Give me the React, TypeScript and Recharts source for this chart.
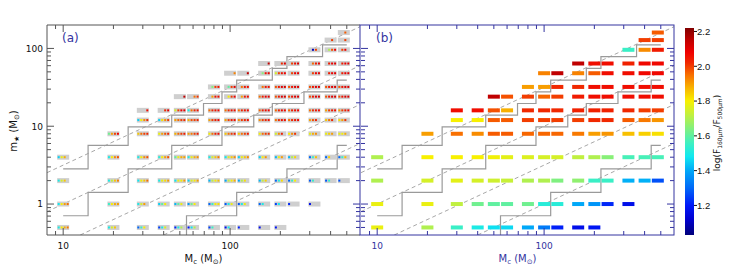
import React from "react";
import { ScatterChart, Scatter, XAxis, YAxis } from "recharts";

// model grid: clump mass (columns) and protostar mass (rows)
const MC = [10, 20, 30, 40, 50, 60, 80, 100, 120, 160, 200, 240, 320, 400, 480];
const MSTAR = [0.5, 1, 2, 4, 8, 12, 16, 24, 32, 48, 64, 96, 128, 160];

// (b) mean log(F160/F500) per m* row, one value per Mc (null = no model)
const _ = null;
const R_0p5 = [1.78, 1.7, 1.55, 1.5, 1.47, 1.46, 1.4, 1.33, 1.21, 1.17, 1.19, _, _, _, _];
const R_1 = [1.78, 1.78, 1.72, 1.62, 1.6, 1.6, 1.62, 1.52, 1.52, 1.4, 1.37, 1.22, 1.17, _, _];
const R_2 = [1.7, 1.75, 1.77, 1.75, 1.74, 1.73, 1.7, 1.7, 1.64, 1.66, 1.55, 1.55, 1.41, 1.41, 1.27];
const R_4 = [1.7, 1.8, 1.8, 1.8, 1.79, 1.77, 1.76, 1.75, 1.75, 1.72, 1.7, 1.65, 1.57, 1.57, 1.57];
const R_8 = [_, 1.9, 1.95, 1.92, 1.97, 1.97, 1.96, 1.96, 1.96, 1.94, 1.9, 1.91, 1.86, 1.84, 1.82];
const R_12 = [_, _, 1.8, 1.8, 1.97, 1.97, 2.0, 2.0, 2.0, 2.0, 2.02, 2.02, 1.97, 1.94, 1.91];
const R_16 = [_, _, 2.06, 2.06, 1.98, 1.88, 2.02, 2.02, 2.02, 2.03, 2.03, 2.03, 2.02, 2.0, 2.0];
const R_24 = [_, _, _, _, 2.15, 1.98, 2.0, 1.96, 2.0, 2.04, 2.06, 2.06, 2.06, 2.06, 2.06];
const R_32 = [_, _, _, _, _, _, 1.9, 1.9, 2.02, 2.02, 2.06, 2.06, 2.06, 2.06, 2.06];
const R_48 = [_, _, _, _, _, _, _, 1.93, 2.15, 1.93, 1.97, 2.06, 2.06, 2.07, 2.07];
const R_64 = [_, _, _, _, _, _, _, _, _, 2.15, 2.06, 2.06, 2.03, 2.07, 2.07];
const R_96 = [_, _, _, _, _, _, _, _, _, _, _, _, 1.55, 1.92, 2.04];
const R_128 = [_, _, _, _, _, _, _, _, _, _, _, _, _, 2.0, 2.0];
const R_160 = [_, _, _, _, _, _, _, _, _, _, _, _, _, _, 1.97];
const ROWS = [R_0p5, R_1, R_2, R_4, R_8, R_12, R_16, R_24, R_32, R_48, R_64, R_96, R_128, R_160];

// (a) the four single models in each cell (slot order left to right, null = absent)
const D_0p5 = [
  [1.5, 1.8, 1.88, 1.94], [1.5, 1.75, 1.85, _], [1.3, 1.55, 1.8, _], [1.25, 1.5, 1.75, _],
  [1.22, 1.5, 1.7, _], [1.2, 1.48, 1.7, _], [1.25, 1.55, _, _], [1.18, 1.48, _, _],
  [1.21, _, _, _], [1.17, _, _, _], [1.19, _, _, _], _, _, _, _,
];
const D_1 = [
  [1.48, 1.8, 1.9, 1.95], [1.55, 1.8, 1.88, 1.9], [1.5, 1.75, 1.9, _], [1.45, 1.6, 1.8, _],
  [1.42, 1.6, 1.78, _], [1.38, 1.62, 1.8, _], [1.3, 1.55, 1.8, 1.82], [1.28, 1.5, 1.78, _],
  [1.28, 1.5, 1.78, _], [1.3, 1.5, _, _], [1.25, 1.48, _, _], [1.22, _, _, _], [1.17, _, _, _], _, _,
];
const D_2 = [
  [1.5, 1.75, 1.85, _], [1.5, 1.72, 1.85, 1.93], [1.48, 1.8, 1.85, 1.95], [1.5, 1.78, 1.82, 1.9],
  [1.48, 1.78, 1.8, 1.9], [1.45, 1.76, 1.8, 1.9], [1.42, 1.72, 1.8, 1.86], [1.4, 1.72, 1.8, 1.88],
  [1.4, 1.7, 1.82, _], [1.42, 1.72, 1.84, _], [1.3, 1.52, 1.82, _], [1.3, 1.55, 1.8, _],
  [1.28, 1.54, _, _], [1.28, 1.54, _, _], [1.27, _, _, _],
];
const D_4 = [
  [1.45, 1.78, 1.88, _], [1.5, 1.8, 1.92, 1.98], [1.5, 1.8, 1.92, 1.98], [1.52, 1.8, 1.9, 1.98],
  [1.6, 1.78, 1.88, 1.9], [1.5, 1.78, 1.88, 1.92], [1.5, 1.75, 1.85, 1.94], [1.48, 1.76, 1.84, 1.92],
  [1.45, 1.78, 1.85, 1.92], [1.45, 1.8, 1.91, _], [1.42, 1.78, 1.9, _], [1.42, 1.7, 1.83, _],
  [1.3, 1.55, 1.86, _], [1.3, 1.84, _, _], [1.3, 1.55, 1.86, _],
];
const D_8 = [
  _, [1.62, 1.9, 2.0, 2.08], [1.85, 1.95, 2.0, 2.02], [1.78, 1.9, 1.98, 2.02],
  [1.88, 1.96, 2.0, 2.04], [1.9, 1.94, 2.0, 2.04], [1.8, 1.95, 2.03, 2.06], [1.85, 1.95, 2.0, 2.04],
  [1.85, 1.95, 2.0, 2.04], [1.8, 1.95, 2.0, 2.01], [1.75, 1.92, 2.03, _], [1.8, 1.92, 2.01, _],
  [1.78, 1.88, 1.92, _], [1.78, 1.84, 1.9, _], [1.78, 1.8, 1.88, _],
];
const D_12 = [
  _, _, [1.45, 1.8, 1.92, 2.02], [1.45, 1.82, 1.92, 2.0],
  [1.9, 1.96, 2.0, 2.02], [1.88, 1.98, 2.0, 2.02], [1.9, 2.0, 2.04, 2.06], [1.9, 2.0, 2.04, 2.06],
  [1.92, 2.0, 2.03, 2.05], [1.92, 2.0, 2.03, 2.05], [1.95, 2.02, 2.05, 2.06], [1.95, 2.02, 2.05, 2.06],
  [1.9, 1.98, 2.03, _], [1.85, 1.95, 2.02, _], [1.82, 1.9, 2.01, _],
];
const D_16 = [
  _, _, [_, _, _, 2.06], [_, _, 2.02, 2.1],
  [1.75, 2.0, 2.08, 2.1], [1.5, 1.95, 2.02, 2.05], [1.95, 2.02, 2.05, 2.06], [1.95, 2.02, 2.05, 2.06],
  [1.95, 2.02, 2.05, 2.06], [1.96, 2.03, 2.06, 2.07], [1.96, 2.03, 2.06, 2.07], [1.96, 2.03, 2.06, 2.07],
  [1.95, 2.02, 2.05, 2.06], [1.9, 2.0, 2.04, 2.06], [1.9, 2.0, 2.04, 2.06],
];
const D_24 = [
  _, _, _, _,
  [_, _, _, 2.15], [_, _, 1.95, 2.01], [_, 1.9, 2.05, 2.06], [_, 1.8, 2.0, 2.08],
  [_, 1.9, 2.04, 2.06], [1.95, 2.03, 2.08, 2.1], [1.98, 2.05, 2.1, 2.11], [1.98, 2.05, 2.1, 2.11],
  [1.98, 2.05, 2.1, 2.11], [1.98, 2.05, 2.1, 2.11], [1.98, 2.05, 2.1, 2.11],
];
const D_32 = [
  _, _, _, _, _, _,
  [_, 1.65, 2.0, 2.05], [_, 1.6, 2.0, 2.1], [_, 1.95, 2.05, 2.06], [_, 1.95, 2.05, 2.06],
  [1.98, 2.05, 2.1, 2.11], [1.98, 2.05, 2.1, 2.11], [1.98, 2.05, 2.1, 2.11], [1.98, 2.05, 2.1, 2.11],
  [1.98, 2.05, 2.1, 2.11],
];
const D_48 = [
  _, _, _, _, _, _, _,
  [_, _, _, 1.93], [_, _, _, 2.15], [_, 1.65, 2.05, 2.1], [1.75, 2.0, 2.05, 2.08],
  [_, 2.0, 2.08, 2.1], [_, 2.0, 2.08, 2.1], [_, 2.04, 2.08, 2.1], [_, 2.04, 2.08, 2.1],
];
const D_64 = [
  _, _, _, _, _, _, _, _, _,
  [_, _, _, 2.15], [_, _, 2.02, 2.1], [_, 2.0, 2.06, 2.12], [_, 1.96, 2.04, 2.09],
  [_, 2.04, 2.08, 2.1], [_, 2.04, 2.08, 2.1],
];
const D_96 = [_, _, _, _, _, _, _, _, _, _, _, _, [_, 1.1, 2.0, _], [_, 1.7, 1.98, 2.08], [_, 2.0, 2.08, _]];
const D_128 = [_, _, _, _, _, _, _, _, _, _, _, _, _, [_, _, 2.0, _], [_, _, 2.0, _]];
const D_160 = [_, _, _, _, _, _, _, _, _, _, _, _, _, _, [_, _, 1.97, _]];
const DOT_ROWS = [D_0p5, D_1, D_2, D_4, D_8, D_12, D_16, D_24, D_32, D_48, D_64, D_96, D_128, D_160];

// m*/Mc reference lines (dashed) and grid boundaries (steps)
const DASH_1 = [{ M: 8, m: 2.53 }, { M: 600, m: 190 }];
const DASH_2 = [{ M: 8, m: 0.8 }, { M: 600, m: 60 }];
const DASH_3 = [{ M: 12.65, m: 0.4 }, { M: 600, m: 19 }];
const DASH_4 = [{ M: 40, m: 0.4 }, { M: 600, m: 6 }];
const STEP_TOP = [
  [10, 2.83], [14.1, 2.83], [14.1, 5.66], [24.5, 5.66], [24.5, 9.8], [44.7, 9.8], [44.7, 13.86],
  [69.3, 13.86], [69.3, 19.6], [89.4, 19.6], [89.4, 27.7], [109.5, 27.7], [109.5, 39.2], [179, 39.2],
  [179, 55.4], [219, 55.4], [219, 78.4], [358, 78.4], [358, 110.9], [500, 110.9],
];
const STEP_MID = [
  [10, 0.707], [14.1, 0.707], [14.1, 1.414], [24.5, 1.414], [24.5, 2.83], [44.7, 2.83], [44.7, 5.66],
  [89.4, 5.66], [89.4, 9.8], [138.6, 9.8], [138.6, 13.86], [179, 13.86], [179, 19.6], [277, 19.6],
  [277, 27.7], [438, 27.7], [438, 39.2], [500, 39.2],
];
const STEP_LOW = [
  [54.8, 0.4], [54.8, 0.707], [109.5, 0.707], [109.5, 1.414], [219, 1.414], [219, 2.83], [438, 2.83],
  [438, 5.66], [500, 5.66],
];

const X_TICKS = [9, 10, 20, 30, 40, 50, 60, 70, 80, 90, 100, 200, 300, 400, 500];
const Y_TICKS = [0.5, 0.6, 0.7, 0.8, 0.9, 1, 2, 3, 4, 5, 6, 7, 8, 9, 10, 20, 30, 40, 50, 60, 70, 80, 90, 100];
const MAJOR = [1, 10, 100];
const CB_TICKS = [1.2, 1.4, 1.6, 1.8, 2.0, 2.2];

// colour table (value, colour)
const CMAP: [number, string][] = [
  [1.03, "#00007a"], [1.12, "#0000d0"], [1.2, "#0018f8"], [1.3, "#0068f8"], [1.4, "#00a8f8"],
  [1.48, "#10e8f0"], [1.56, "#40f0c0"], [1.64, "#80f080"], [1.72, "#c0f040"], [1.8, "#f8f000"],
  [1.88, "#f8b000"], [1.95, "#f87000"], [2.02, "#f02800"], [2.08, "#f00000"], [2.15, "#c00000"],
  [2.22, "#800000"],
];
const CB_MIN = 1.03;
const CB_MAX = 2.22;

const W = 747;
const H = 272;
const TOP = 25;
const BOTTOM = 235;
const A_LEFT = 47;
const A_RIGHT = 360;
const B_LEFT = 361;
const B_RIGHT = 674;
const GREY = "#555";
const BLUE = "#3434a0";
const FONT = "DejaVu Sans, sans-serif";

const hex = (c: string) => [1, 3, 5].map((i) => parseInt(c.slice(i, i + 2), 16));
function cmap(v: number) {
  if (v <= CMAP[0][0]) return CMAP[0][1];
  for (let i = 1; i < CMAP.length; i++) {
    if (v <= CMAP[i][0]) {
      const [v0, c0] = CMAP[i - 1];
      const [v1, c1] = CMAP[i];
      const t = (v - v0) / (v1 - v0);
      const a = hex(c0);
      const b = hex(c1);
      return `rgb(${a.map((x, k) => Math.round(x + (b[k] - x) * t)).join(",")})`;
    }
  }
  return CMAP[CMAP.length - 1][1];
}

const cellsB = ROWS.flatMap((row, r) =>
  row.map((v, c) => (v == null ? null : { M: MC[c], m: MSTAR[r], v })).filter(Boolean)
) as { M: number; m: number; v: number }[];

const cellsA = DOT_ROWS.flatMap((row, r) =>
  row.map((d, c) => (d == null ? null : { M: MC[c], m: MSTAR[r], dots: d })).filter(Boolean)
) as { M: number; m: number; dots: (number | null)[] }[];

const toPts = (arr: number[][]) => arr.map(([M, m]) => ({ M, m }));

const SLOT_DX = [-4.5, -1.5, 1.5, 4.5];
const GreyBox = (p: any) => (
  <g>
    <rect x={p.cx - 6} y={p.cy - 2.5} width={12} height={5} fill="#cfcfcf" />
    {p.payload.dots.map((v: number | null, i: number) =>
      v == null ? null : (
        <rect key={i} x={p.cx + SLOT_DX[i] - 1} y={p.cy - 1} width={2} height={2} fill={cmap(v)} />
      )
    )}
  </g>
);
const ColourBar = (p: any) => (
  <rect x={p.cx - 6} y={p.cy - 2} width={12} height={4} fill={cmap(p.payload.v)} />
);
const NoShape = () => <g />;

const xTick = (axisColor: string, labelColor: string) => (p: any) => {
  const v = p.payload.value;
  const len = MAJOR.includes(v) ? 7 : 4;
  return (
    <g>
      <line x1={p.x} y1={p.y} x2={p.x} y2={p.y - len} stroke={axisColor} />
      <line x1={p.x} y1={TOP} x2={p.x} y2={TOP + len} stroke={axisColor} />
      {MAJOR.includes(v) && (
        <text x={p.x} y={p.y + 14} textAnchor="middle" fontSize={9} fontFamily={FONT} fill={labelColor}>
          {v}
        </text>
      )}
    </g>
  );
};

const yTick = (right: number, leftColor: string, rightColor: string, labels: boolean) => (p: any) => {
  const v = p.payload.value;
  const len = MAJOR.includes(v) ? 7 : 4;
  return (
    <g>
      <line x1={p.x} y1={p.y} x2={p.x + len} y2={p.y} stroke={leftColor} />
      <line x1={right} y1={p.y} x2={right - len} y2={p.y} stroke={rightColor} />
      {labels && MAJOR.includes(v) && (
        <text x={p.x - 4} y={p.y + 3.3} textAnchor="end" fontSize={9} fontFamily={FONT} fill="#111">
          {v}
        </text>
      )}
    </g>
  );
};

function Lines() {
  const dash = { stroke: "#a8a8a8", strokeWidth: 1, strokeDasharray: "4 3" };
  const solid = { stroke: "#9a9a9a", strokeWidth: 1.2 };
  return [DASH_1, DASH_2, DASH_3, DASH_4].map((d, i) => (
    <Scatter key={"d" + i} data={d} line={dash} shape={NoShape} isAnimationActive={false} />
  )).concat(
    [STEP_TOP, STEP_MID, STEP_LOW].map((s, i) => (
      <Scatter key={"s" + i} data={toPts(s)} line={solid} lineType="joint" shape={NoShape} isAnimationActive={false} />
    ))
  );
}

function Panel({ which }: { which: "a" | "b" }) {
  const isA = which === "a";
  const left = isA ? A_LEFT : B_LEFT;
  const right = isA ? A_RIGHT : B_RIGHT;
  const axisColor = isA ? GREY : BLUE;
  return (
    <div style={{ position: "absolute", left: 0, top: 0 }}>
      <ScatterChart
        width={W}
        height={H}
        margin={{ top: TOP, right: W - right, bottom: 0, left: isA ? 0 : left - 1 }}
      >
        <XAxis
          dataKey="M"
          type="number"
          scale="log"
          domain={[8, 600]}
          allowDataOverflow
          ticks={X_TICKS}
          interval={0}
          height={H - BOTTOM}
          axisLine={false}
          tickLine={false}
          tickSize={0}
          tickMargin={0}
          tick={xTick(axisColor, isA ? "#111" : BLUE)}
        />
        <YAxis
          dataKey="m"
          type="number"
          scale="log"
          domain={[0.4, 200]}
          allowDataOverflow
          ticks={Y_TICKS}
          interval={0}
          width={isA ? A_LEFT : 1}
          axisLine={false}
          tickLine={false}
          tickSize={0}
          tickMargin={0}
          tick={yTick(right, axisColor, BLUE, isA)}
        />
        {Lines()}
        {isA ? (
          <Scatter data={cellsA} shape={GreyBox} isAnimationActive={false} />
        ) : (
          <Scatter data={cellsB} shape={ColourBar} isAnimationActive={false} />
        )}
      </ScatterChart>
    </div>
  );
}

function Decor() {
  const cbTop = 28;
  const cbBot = 235;
  const cbY = (v: number) => cbTop + ((CB_MAX - v) / (CB_MAX - CB_MIN)) * (cbBot - cbTop);
  return (
    <svg width={W} height={H} style={{ position: "absolute", left: 0, top: 0 }}>
      <defs>
        <linearGradient id="cbar" x1="0" y1="1" x2="0" y2="0">
          {CMAP.map(([v, c]) => (
            <stop key={v} offset={(v - CB_MIN) / (CB_MAX - CB_MIN)} stopColor={c} />
          ))}
        </linearGradient>
      </defs>
      {/* frames */}
      <line x1={A_LEFT} y1={TOP} x2={A_RIGHT} y2={TOP} stroke={GREY} />
      <line x1={A_LEFT} y1={BOTTOM} x2={A_RIGHT} y2={BOTTOM} stroke={GREY} />
      <line x1={A_LEFT} y1={TOP} x2={A_LEFT} y2={BOTTOM} stroke={GREY} />
      <rect x={B_LEFT - 1} y={TOP} width={B_RIGHT - B_LEFT + 1} height={BOTTOM - TOP} fill="none" stroke={BLUE} />
      <text x={62} y={42} fontSize={12} fontFamily={FONT} fill={BLUE}>(a)</text>
      <text x={376} y={42} fontSize={12} fontFamily={FONT} fill={BLUE}>(b)</text>
      <text transform="translate(17,131) rotate(-90)" textAnchor="middle" fontSize={10} fontFamily={FONT} fill="#111">
        m<tspan dy={2} fontSize={7}>★</tspan>
        <tspan dy={-2}> (M</tspan>
        <tspan dy={2} fontSize={7}>⊙</tspan>
        <tspan dy={-2}>)</tspan>
      </text>
      {[[(A_LEFT + A_RIGHT) / 2, "#111"], [(B_LEFT + B_RIGHT) / 2, BLUE]].map(([cx, col]) => (
        <text key={cx as number} x={cx as number} y={262} textAnchor="middle" fontSize={10} fontFamily={FONT} fill={col as string}>
          M<tspan dy={2} fontSize={7}>c</tspan>
          <tspan dy={-2}> (M</tspan>
          <tspan dy={2} fontSize={7}>⊙</tspan>
          <tspan dy={-2}>)</tspan>
        </text>
      ))}
      {/* colour bar */}
      <rect x={685} y={cbTop} width={9} height={cbBot - cbTop} fill="url(#cbar)" />
      {CB_TICKS.map((t) => (
        <g key={t}>
          <line x1={694} x2={697} y1={cbY(t)} y2={cbY(t)} stroke="#111" />
          <text x={697} y={cbY(t) + 3.3} fontSize={9.5} fontFamily="Liberation Sans, sans-serif" fill="#111">
            {t.toFixed(1)}
          </text>
        </g>
      ))}
      <text transform="translate(720,133) rotate(-90)" textAnchor="middle" fontSize={9} fontFamily={FONT} fill="#111">
        log(F<tspan dy={2} fontSize={6}>160μm</tspan>
        <tspan dy={-2}>/F</tspan>
        <tspan dy={2} fontSize={6}>500μm</tspan>
        <tspan dy={-2}>)</tspan>
      </text>
    </svg>
  );
}

export default function App() {
  return (
    <div style={{ position: "absolute", left: 0, top: 0, width: W, height: H, background: "#fff", overflow: "hidden" }}>
      <Panel which="a" />
      <Panel which="b" />
      <Decor />
    </div>
  );
}
